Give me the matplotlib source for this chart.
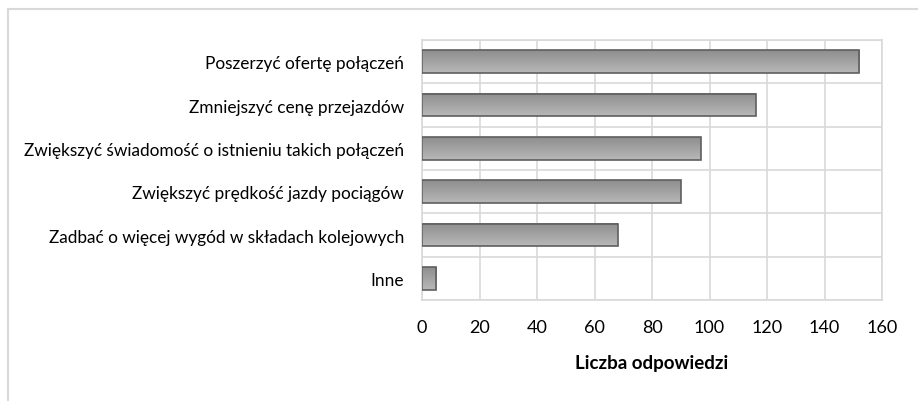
# wykres słupkowy poziomy - liczba odpowiedzi
import numpy as np
import matplotlib.pyplot as plt
from matplotlib.patches import Rectangle
from matplotlib.colors import LinearSegmentedColormap

# dane
kategorie = [
    "Poszerzyć ofertę połączeń",
    "Zmniejszyć cenę przejazdów",
    "Zwiększyć świadomość o istnieniu takich połączeń",
    "Zwiększyć prędkość jazdy pociągów",
    "Zadbać o więcej wygód w składach kolejowych",
    "Inne",
]
wartosci = [152, 116, 97, 90, 68, 5]
ticki = [0, 20, 40, 60, 80, 100, 120, 140, 160]

plt.rcParams['font.family'] = ['Lato', 'DejaVu Sans']

fig = plt.figure(figsize=(9.18, 4.02), dpi=100)
ax = fig.add_axes([0.4597, 0.2512, 0.5011, 0.6468])

# ramka wykresu
fig.patches.append(Rectangle((8 / 918, -0.1), 1.2, (402 - 10) / 402 + 0.1,
                             transform=fig.transFigure, fill=False,
                             edgecolor='#d9d9d9', linewidth=1.5))

y = np.arange(len(kategorie))
wys = 0.52
bary = ax.barh(y, wartosci, height=wys, color='none', edgecolor='#5f5f5f',
               linewidth=1.2, zorder=3)

# gradient w słupkach
grad = np.linspace(0, 1, 100).reshape(-1, 1)
cm = LinearSegmentedColormap.from_list('g', ['#b8b8b8', '#8e8e8e'])
for b in bary:
    x0, y0 = b.get_x(), b.get_y()
    w, h = b.get_width(), b.get_height()
    ax.imshow(grad, cmap=cm, aspect='auto',
              extent=(x0, x0 + w, y0, y0 + h), origin='upper', zorder=2)

ax.set_xlim(0, 160)
ax.set_ylim(len(kategorie) - 0.5, -0.5)
ax.set_xticks(ticki)
ax.set_xticklabels([str(t) for t in ticki], fontsize=13)
ax.set_yticks(y)
ax.set_yticklabels(kategorie, fontsize=12.4)
ax.tick_params(axis='y', length=0, pad=13)
ax.tick_params(axis='x', length=0, pad=14)

# siatka
ax.set_yticks(np.arange(-0.5, len(kategorie), 1), minor=True)
ax.grid(axis='x', color='#d9d9d9', linewidth=1.2, zorder=0)
ax.grid(axis='y', which='minor', color='#d9d9d9', linewidth=1.2, zorder=0)
ax.grid(axis='y', which='major', visible=False)
ax.tick_params(which='minor', length=0)
for s in ax.spines.values():
    s.set_color('#d9d9d9')
    s.set_linewidth(1.2)

ax.set_xlabel("Liczba odpowiedzi", fontsize=13.5, fontweight='bold', labelpad=13)

fig.savefig("out.png", dpi=100)
